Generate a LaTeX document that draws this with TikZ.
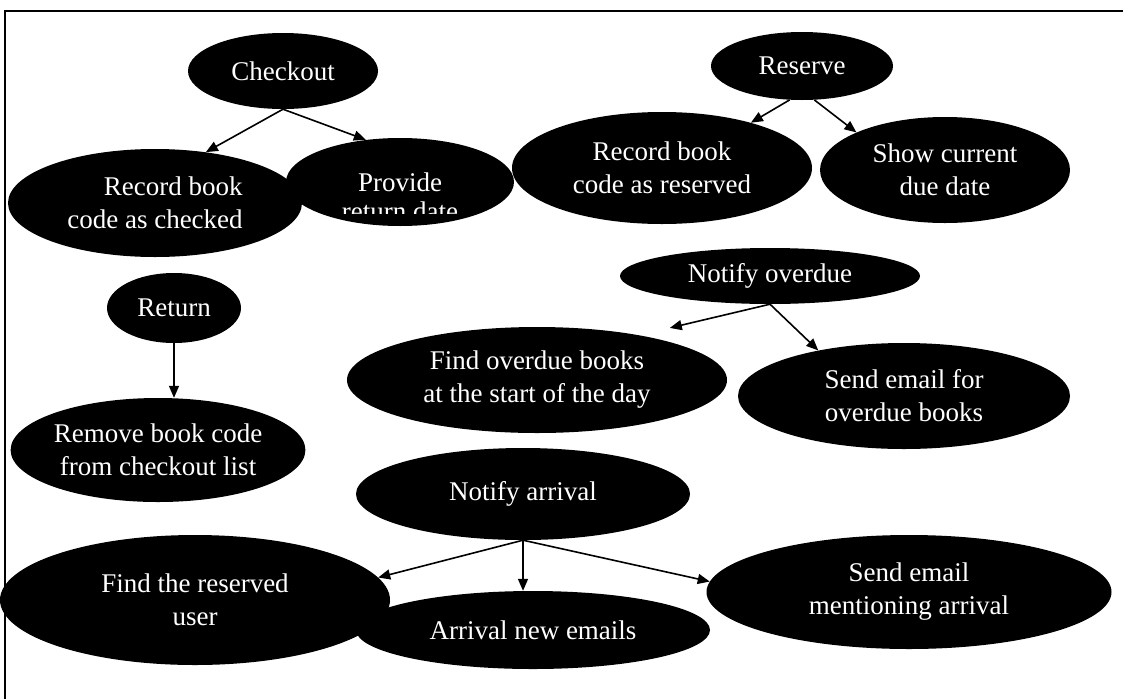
\documentclass[tikz,border=0pt]{standalone}
\usepackage{fontspec}
\setmainfont{Liberation Serif}
\usetikzlibrary{shapes.geometric,arrows.meta}
\begin{document}
\begin{tikzpicture}[x=1pt,y=-1pt,
  usecase/.style={ellipse,fill=black,text=white,inner sep=0pt,align=center,
    font=\fontsize{27}{33}\selectfont},
  link/.style={line width=1.6pt,-{Triangle[length=12pt,width=10pt]}},
  frame/.style={line width=2pt}]
\useasboundingbox (0,0) rectangle (1123,699);
% open frame: top and left edges only
\draw[frame] (5,699) -- (5,11) -- (1123,11);

% checkout group
\node[usecase,minimum width=190pt,minimum height=76pt] (chk) at (283,71) {Checkout};
\node[usecase,minimum width=294pt,minimum height=108pt,align=right] (rbc) at (155,203) {Record book\\code as checked};
\node[usecase,minimum width=228pt,minimum height=88pt] (prv) at (400,182) {Provide};
\begin{scope}
  \clip (286,130) rectangle (515,213);
  \node[usecase,fill=none,anchor=base] (prvtail) at (400,220) {return date};
\end{scope}

% reserve group
\node[usecase,minimum width=182pt,minimum height=68pt] (res) at (802,66) {Reserve};
\node[usecase,minimum width=300pt,minimum height=112pt] (rbr) at (662,168) {Record book\\code as reserved};
\node[usecase,minimum width=250pt,minimum height=106pt] (scd) at (945,170) {Show current\\due date};

% return group
\node[usecase,minimum width=134pt,minimum height=70pt] (ret) at (174,308) {Return};
\node[usecase,minimum width=276pt,minimum height=104pt] (rem) at (158,450) {Remove book code\\from checkout list};

% notify overdue group
\node[usecase,minimum width=300pt,minimum height=56pt] (nov) at (770,276) {Notify overdue};
\node[usecase,minimum width=380pt,minimum height=106pt] (fob) at (537,380) {Find overdue books\\at the start of the day};
\node[usecase,minimum width=332pt,minimum height=106pt] (seo) at (904,396) {Send email for\\overdue books};

% notify arrival group
\node[usecase,minimum width=334pt,minimum height=92pt] (nar) at (523,494) {Notify arrival};
\node[usecase,minimum width=390pt,minimum height=130pt] (frs) at (195,600) {Find the reserved\\user};
\node[usecase,minimum width=354pt,minimum height=78pt] (ane) at (533,630) {Arrival new emails};
\node[usecase,minimum width=405pt,minimum height=114pt] (sem) at (909,592) {Send email\\mentioning arrival};

% connectors
\draw[link] (chk.south) -- (rbc.45);
\draw[link] (chk.south) -- (prv.129);
\draw[link] (res.250) -- (rbr.27);
\draw[link] (res.290) -- (scd.157);
\draw[link] (ret.south) -- (ret.south |- rem.north);
\draw[link] (nov.south) -- ([yshift=14pt]fob.16);
\draw[link] (nov.south) -- (seo.152);
\draw[link] (nar.south) -- (frs.7);
\draw[link] (nar.south) -- (nar.south |- ane.north);
\draw[link] (nar.south) -- (sem.177);
\end{tikzpicture}
\end{document}
